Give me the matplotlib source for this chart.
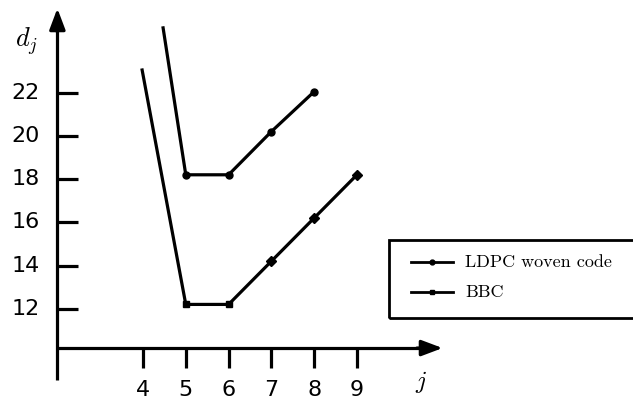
import matplotlib
matplotlib.use('Agg')
import matplotlib.pyplot as plt
from matplotlib.patches import Rectangle

plt.rcParams['mathtext.fontset'] = 'cm'

# values
j_ldpc = [4.47, 5, 6, 7, 8]
d_ldpc = [25.0, 18.2, 18.2, 20.2, 22.05]
j_bbc = [3.98, 5, 6, 7, 8, 9]
d_bbc = [23.05, 12.2, 12.2, 14.2, 16.2, 18.2]
xticks = [4, 5, 6, 7, 8, 9]
yticks = [12, 14, 16, 18, 20, 22]

W, H = 633, 401
fig = plt.figure(figsize=(W / 100, H / 100), dpi=100)
ax = fig.add_axes([0, 0, 1, 1])
ax.set_xlim(0.659, 15.45)
ax.set_ylim(7.73, 26.29)
ax.axis('off')

lw = 2.3
x0, y0 = 2.0, 10.18  # axis origin

# axes with arrow heads
ax.plot([x0, x0], [8.7, 25.2], color='k', lw=lw, solid_capstyle='butt')
ax.plot([x0, 10.6], [y0, y0], color='k', lw=lw, solid_capstyle='butt')
arrow = dict(arrowstyle='-|>,head_length=0.85,head_width=0.32', color='k',
             lw=lw, shrinkA=0, shrinkB=0, mutation_scale=15)
ax.annotate('', xy=(x0, 25.9), xytext=(x0, 24.8), arrowprops=arrow)
ax.annotate('', xy=(11.0, y0), xytext=(10.4, y0), arrowprops=arrow)

# ticks
for t in yticks:
    ax.plot([x0, x0 + 0.49], [t, t], color='k', lw=lw, solid_capstyle='butt')
    ax.text(x0 - 0.42, t, str(t), ha='right', va='center', fontsize=16)
for t in xticks:
    ax.plot([t, t], [y0, y0 - 0.93], color='k', lw=lw, solid_capstyle='butt')
    ax.text(t, y0 - 1.95, str(t), ha='center', va='center', fontsize=16)

ax.text(1.27, 24.39, '$d_j$', fontsize=19, ha='center', va='center')
ax.text(10.5, 8.6, '$j$', fontsize=18, ha='center', va='center')

# series
ax.plot(j_ldpc, d_ldpc, color='k', lw=lw)
ax.plot(j_ldpc[1:], d_ldpc[1:], 'o', color='k', ms=5)
ax.plot(j_bbc, d_bbc, color='k', lw=lw)
ax.plot(j_bbc[1:3], d_bbc[1:3], 's', color='k', ms=5)
ax.plot(j_bbc[3:], d_bbc[3:], 'D', color='k', ms=5)

# legend box
ax.add_patch(Rectangle((389 / W, 1 - 318 / H), 260 / W, 78 / H,
                       transform=ax.transAxes, fill=False, lw=2,
                       ec='k', clip_on=False))
for ypix, mk, label in [(262, 'o', 'LDPC woven code'), (292, 's', 'BBC')]:
    yy = 1 - ypix / H
    ax.plot([411 / W, 453 / W], [yy, yy], color='k', lw=2,
            transform=ax.transAxes)
    ax.plot([432 / W], [yy], mk, color='k', ms=3.5, transform=ax.transAxes)
    ax.text(465 / W, yy, label, family='cmr10', fontsize=13,
            ha='left', va='center', transform=ax.transAxes)

fig.savefig('out.png', dpi=100)
